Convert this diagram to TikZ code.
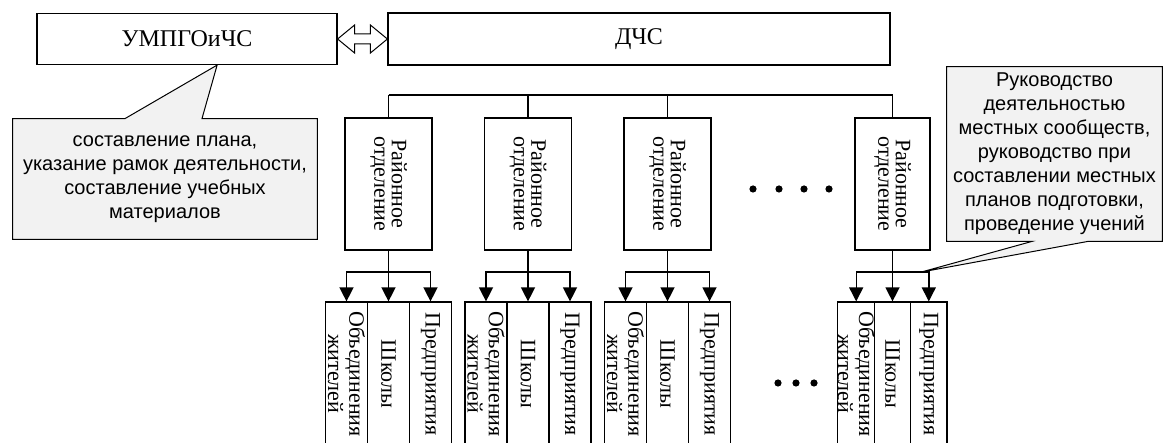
\documentclass[tikz,border=0pt]{standalone}
\usepackage{fontspec}
\setmainfont{Liberation Serif}
\newfontfamily\notefont{Liberation Sans}
\usetikzlibrary{arrows.meta, calc, backgrounds}
\definecolor{notegray}{RGB}{242,242,242}

\begin{document}
\begin{tikzpicture}[x=0.5pt, y=-0.5pt,
  box/.style={draw, line width=0.6pt, align=center, inner sep=0pt, font=\fontsize{11}{8.8}\selectfont},
  topbox/.style={box, font=\fontsize{12}{14}\selectfont},
  vbox/.style={box, rotate=-90},
  line/.style={line width=0.7pt},
  arr/.style={line, -{Triangle[length=7pt, width=7pt]}},
  note/.style={align=center, inner sep=0pt, font=\notefont\fontsize{10}{12}\selectfont},
  notebg/.style={draw, line width=0.5pt, fill=notegray}]

  \useasboundingbox (0,0) rectangle (1164,443);

  % top level
  \node[topbox, minimum width=150pt, minimum height=25.5pt] (umpg) at (187,39) {УМПГОиЧС};
  \node[topbox, minimum width=251pt, minimum height=26pt] (dchs) at (639,39) {ДЧС};
  % hollow two-way arrow
  \draw[line width=0.5pt] (umpg.east) -- ++(17,-14) -- ++(0,9) -- ($(dchs.west)+(-17,-5)$) -- ++(0,-9) -- (dchs.west)
    -- ++(-17,14) -- ++(0,-9) -- ($(umpg.east)+(17,5)$) -- ++(0,9) -- cycle;

  % district offices and what is under them
  \coordinate (bus) at (0,95);
  \foreach \cx/\w [count=\i] in {388.5/42, 528/42, 667.5/42, 892.5/36.3}{
    \node[vbox, minimum width=66pt, minimum height=1.035pt*\w] (rd\i) at (\cx,184) {Районное\\отделение};
    \node[vbox, minimum width=72pt, minimum height=0.5pt*\w] (ob\i) at (\cx-\w,374) {Объединения\\жителей};
    \node[vbox, minimum width=72pt, minimum height=0.5pt*\w] (sh\i) at (\cx,374) {Школы};
    \node[vbox, minimum width=72pt, minimum height=0.5pt*\w] (pr\i) at (\cx+\w,374) {Предприятия};
    \coordinate (fk\i) at (\cx,272);
    \draw[line] (rd\i.west) -- (rd\i.west |- bus);
    \draw[arr] (rd\i.east) -- (sh\i.west);
    \draw[arr] (fk\i) -| (ob\i.west);
    \draw[arr] (fk\i) -| (pr\i.west);
  }
  \draw[line] (rd1.west |- bus) -- (rd4.west |- bus);

  % dots
  \foreach \dx in {753,779,804,829} \fill (\dx,189) circle[radius=1.8pt];
  \foreach \dx in {778,796,814} \fill (\dx,383) circle[radius=1.8pt];

  % callouts
  \node[note, minimum width=152pt, minimum height=56pt] (lnote) at (165,179)
    {составление плана,\\указание рамок деятельности,\\составление учебных\\материалов};
  \node[note, minimum width=107.5pt, minimum height=87pt] (rnote) at (1054.5,154)
    {Руководство\\деятельностью\\местных сообществ,\\руководство при\\составлении местных\\планов подготовки,\\проведение учений};
  \coordinate (ltip) at ($(umpg.south west)!0.6!(umpg.south east)$);
  \coordinate (rtip) at ($(fk4)+(29,0)$);
  \begin{scope}[on background layer]
    \draw[notebg] ([yshift=-2pt]lnote.south west) -- ([yshift=2pt]lnote.north west) -- ([xshift=-20pt,yshift=2pt]lnote.north) -- (ltip)
      -- ([xshift=18.5pt,yshift=2pt]lnote.north) -- ([yshift=2pt]lnote.north east) -- ([yshift=-2pt]lnote.south east) -- cycle;
    \draw[notebg] (rnote.north west) -- (rnote.north east) -- (rnote.south east) -- ($(rnote.south)+(33.5,0)$)
      -- (rtip) -- ($(rnote.south)+(-22.5,0)$) -- (rnote.south west) -- cycle;
  \end{scope}
\end{tikzpicture}
\end{document}
